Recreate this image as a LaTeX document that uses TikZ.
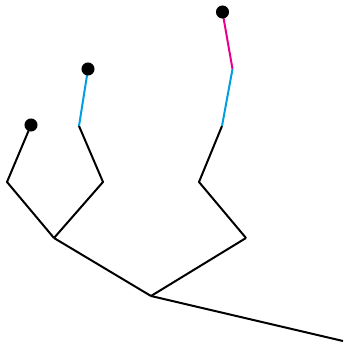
\documentclass[tikz,border=0pt]{standalone}
\usepackage{tikz}
\usepackage{xcolor}
\usetikzlibrary{positioning}

\definecolor{treeblue}{RGB}{0,158,227}
\definecolor{treemagenta}{RGB}{230,0,140}

\begin{document}
\begin{tikzpicture}[x=0.75pt,y=0.75pt,yscale=-1,xscale=1,
  branch/.style={line width=1.5pt,line join=round},
  leafdot/.style={circle,inner sep=0pt,minimum size=0pt}]
\useasboundingbox (0,0) rectangle (343,345);

%Tree points
\coordinate (root) at (343,341);
\coordinate (top) at (151,296);
\coordinate (lj) at (54,238);
\coordinate (rj) at (246,238);
\coordinate (la) at (7,182);
\coordinate (lb) at (103,182);
\coordinate (ra) at (199,182);
\coordinate (lbk) at (79,126);
\coordinate (rak) at (222,126);
\coordinate (rakk) at (232.5,69);

%Leaves
\node [leafdot] (leafa) at (31,125) {};
\node [leafdot] (leafb) at (88,69) {};
\node [leafdot] (leafc) at (222.5,12) {};

%Straight Lines
\draw [branch] (root) -- (top) ;
\draw [branch] (top) -- (lj) ;
\draw [branch] (top) -- (rj) ;
\draw [branch] (lj) -- (la) -- (leafa) ;
\draw [branch] (lj) -- (lb) -- (lbk) ;
\draw [branch] (rj) -- (ra) -- (rak) ;
%Coloured Lines
\draw [branch,color=treeblue] (lbk) -- (leafb) ;
\draw [branch,color=treeblue] (rak) -- (rakk) ;
\draw [branch,color=treemagenta] (rakk) -- (leafc) ;

%Dots on top
\fill (leafa) circle [radius=4.9pt];
\fill (leafb) circle [radius=4.9pt];
\fill (leafc) circle [radius=4.9pt];

\end{tikzpicture}
\end{document}
